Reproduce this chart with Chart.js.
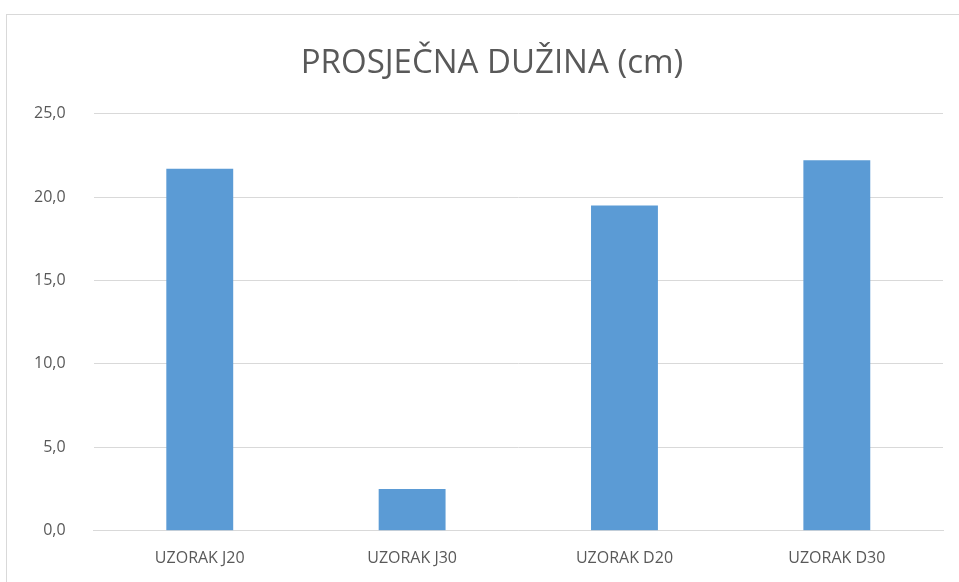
<!DOCTYPE html>
<html lang="hr">
<head>
    <meta charset="UTF-8">
    <title>PROSJEČNA DUŽINA (cm)</title>
    <style>
        html, body { margin: 0; padding: 0; background: #fff; overflow: hidden; }
        #frame { position: absolute; left: 6px; top: 14px; width: 1000px; height: 620px; border: 1px solid #D9D9D9; }
        #wrap { position: absolute; left: 0; top: 0; width: 985px; height: 582px; }
    </style>
</head>
<body>
    <div id="frame"></div>
    <div id="wrap"><canvas id="chart" width="985" height="582"></canvas></div>
    <script src="https://cdn.jsdelivr.net/npm/chart.js"></script>
    <script>
        const categories = ['UZORAK J20', 'UZORAK J30', 'UZORAK D20', 'UZORAK D30'];
        const lengths = [21.7, 2.5, 19.5, 22.2];
        const yTicks = [0, 5, 10, 15, 20, 25];

        const textColor = '#595959';
        const fontFamily = "'Open Sans', 'Liberation Sans', sans-serif";

        // canvas is wider than the window and an empty right axis keeps the plot in place,
        // so the title centres on the original (cropped) frame
        new Chart(document.getElementById('chart'), {
            type: 'bar',
            data: {
                labels: categories,
                datasets: [{
                    label: 'PROSJEČNA DUŽINA (cm)',
                    data: lengths,
                    backgroundColor: '#5B9BD5',
                    categoryPercentage: 1,
                    barPercentage: 0.315
                }]
            },
            options: {
                responsive: false,
                animation: false,
                layout: { padding: { left: 6, right: 7, top: 0, bottom: 4 } },
                plugins: {
                    legend: { display: false },
                    tooltip: { enabled: false },
                    title: {
                        display: true,
                        text: 'PROSJEČNA DUŽINA (cm)',
                        color: textColor,
                        font: { family: fontFamily, size: 33, weight: 'normal' },
                        padding: { top: 44, bottom: 30 }
                    }
                },
                scales: {
                    x: {
                        grid: { display: false },
                        border: { display: true, color: '#D9D9D9', width: 1 },
                        ticks: { color: textColor, font: { family: fontFamily, size: 16 }, padding: 10 }
                    },
                    y: {
                        min: 0,
                        max: 25,
                        afterBuildTicks: axis => { axis.ticks = yTicks.map(v => ({ value: v })); },
                        grid: { color: '#D9D9D9', drawTicks: false },
                        border: { display: false },
                        ticks: {
                            color: textColor,
                            font: { family: fontFamily, size: 16 },
                            padding: 28,
                            callback: v => v.toFixed(1).replace('.', ',')
                        }
                    },
                    yRight: {
                        position: 'right',
                        min: 0,
                        max: 25,
                        grid: { display: false },
                        border: { display: false },
                        ticks: { display: false },
                        afterFit: axis => { axis.width = 35; }
                    }
                }
            }
        });
    </script>
</body>
</html>
